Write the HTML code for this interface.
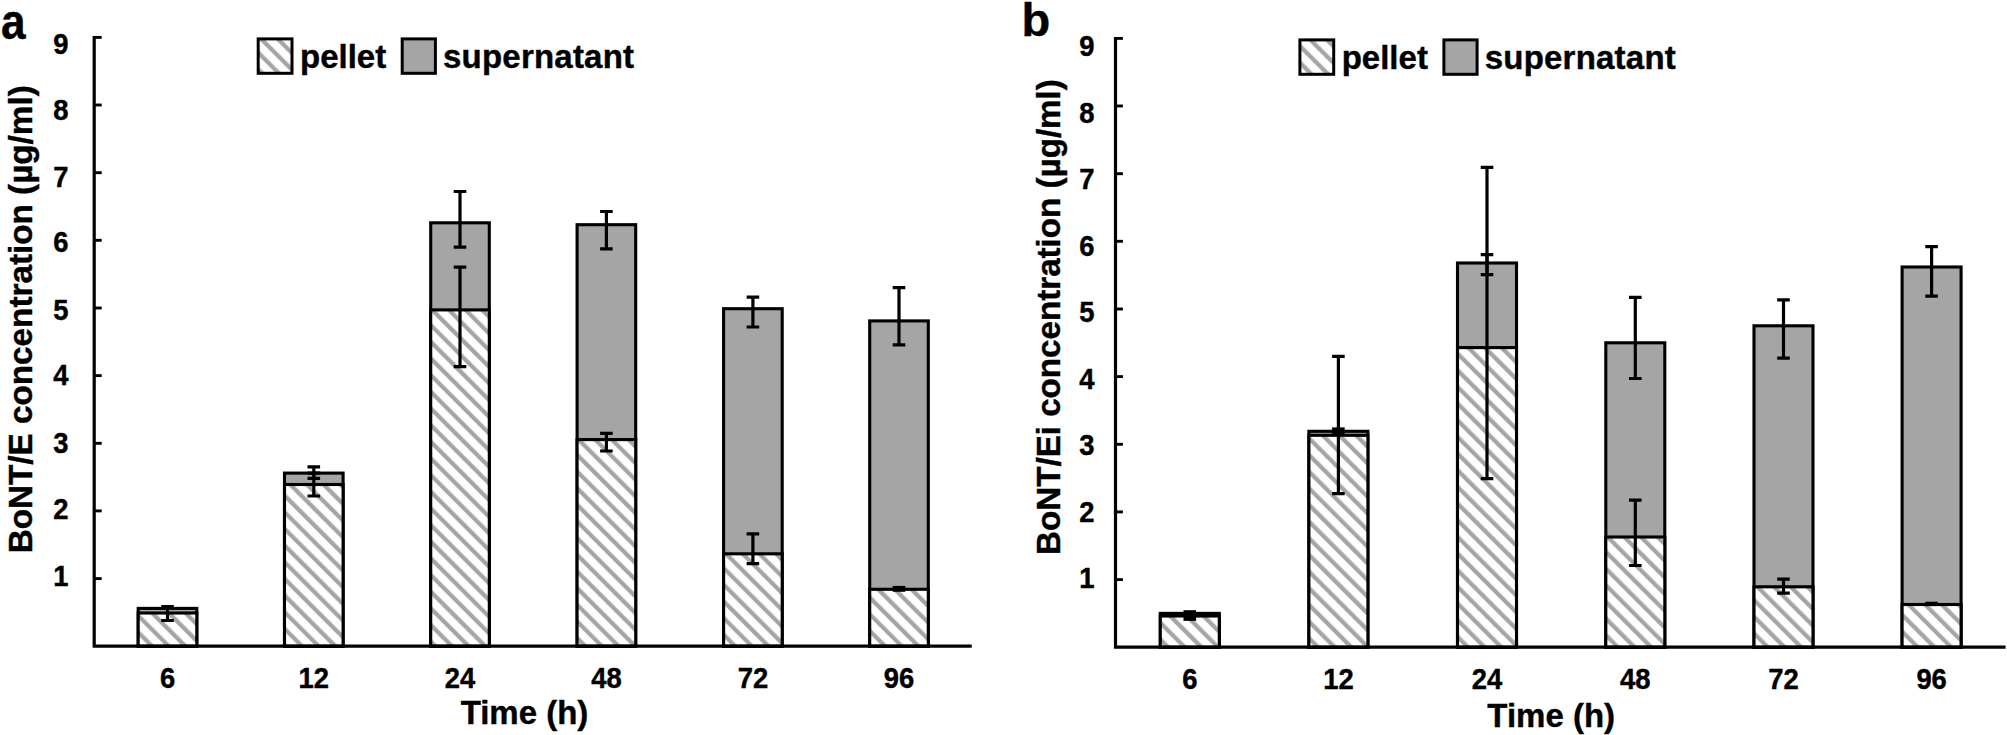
<!DOCTYPE html>
<html lang="en"><head><meta charset="utf-8"><title>BoNT/E concentration over time</title>
<style>html,body{margin:0;padding:0;background:#fff}body{width:2007px;height:735px;overflow:hidden}svg{display:block}text{font-family:"Liberation Sans",Arial,Helvetica,sans-serif;font-weight:700;fill:#000;stroke:#000;stroke-width:.4px}</style>
</head><body>
<svg width="2007" height="735" viewBox="0 0 2007 735">
<defs>
<pattern id="ha" patternUnits="userSpaceOnUse" width="20" height="11.7804" patternTransform="rotate(45)"><rect x="0" y="0" width="20" height="11.7804" fill="#fff"/><rect x="0" y="5.625" width="20" height="4.25" fill="#a5a5a5"/><rect x="0" y="-6.156" width="20" height="4.25" fill="#a5a5a5"/><rect x="0" y="17.405" width="20" height="4.25" fill="#a5a5a5"/></pattern>
<pattern id="hb" patternUnits="userSpaceOnUse" width="20" height="11.7804" patternTransform="rotate(45)"><rect x="0" y="0" width="20" height="11.7804" fill="#fff"/><rect x="0" y="6.502" width="20" height="4.25" fill="#a5a5a5"/><rect x="0" y="-5.279" width="20" height="4.25" fill="#a5a5a5"/><rect x="0" y="18.282" width="20" height="4.25" fill="#a5a5a5"/></pattern>
</defs>
<rect width="2007" height="735" fill="#fff"/>
<rect x="138.2" y="608.4" width="58.6" height="37.8" fill="#a5a5a5" stroke="#000" stroke-width="3.1"/>
<rect x="138.2" y="613.0" width="58.6" height="33.2" fill="url(#ha)" stroke="#000" stroke-width="3.1"/>
<rect x="284.5" y="473.1" width="58.6" height="173.1" fill="#a5a5a5" stroke="#000" stroke-width="3.1"/>
<rect x="284.5" y="484.5" width="58.6" height="161.7" fill="url(#ha)" stroke="#000" stroke-width="3.1"/>
<rect x="430.7" y="222.8" width="58.6" height="423.4" fill="#a5a5a5" stroke="#000" stroke-width="3.1"/>
<rect x="430.7" y="309.9" width="58.6" height="336.3" fill="url(#ha)" stroke="#000" stroke-width="3.1"/>
<rect x="577.1" y="224.7" width="58.6" height="421.5" fill="#a5a5a5" stroke="#000" stroke-width="3.1"/>
<rect x="577.1" y="439.6" width="58.6" height="206.6" fill="url(#ha)" stroke="#000" stroke-width="3.1"/>
<rect x="723.6" y="308.7" width="58.6" height="337.5" fill="#a5a5a5" stroke="#000" stroke-width="3.1"/>
<rect x="723.6" y="553.8" width="58.6" height="92.4" fill="url(#ha)" stroke="#000" stroke-width="3.1"/>
<rect x="869.7" y="320.9" width="58.6" height="325.3" fill="#a5a5a5" stroke="#000" stroke-width="3.1"/>
<rect x="869.7" y="589.3" width="58.6" height="56.9" fill="url(#ha)" stroke="#000" stroke-width="3.1"/>
<path d="M94.2 36.0V647.8M92.7 646.2H971.7" stroke="#000" stroke-width="3.2" fill="none"/>
<path d="M94.2 578.6H101.7" stroke="#000" stroke-width="2.9"/>
<path d="M94.2 510.9H101.7" stroke="#000" stroke-width="2.9"/>
<path d="M94.2 443.3H101.7" stroke="#000" stroke-width="2.9"/>
<path d="M94.2 375.6H101.7" stroke="#000" stroke-width="2.9"/>
<path d="M94.2 308.0H101.7" stroke="#000" stroke-width="2.9"/>
<path d="M94.2 240.3H101.7" stroke="#000" stroke-width="2.9"/>
<path d="M94.2 172.7H101.7" stroke="#000" stroke-width="2.9"/>
<path d="M94.2 105.0H101.7" stroke="#000" stroke-width="2.9"/>
<path d="M94.2 37.4H101.7" stroke="#000" stroke-width="2.9"/>
<path d="M161.2 606.5H173.8M161.2 620.5H173.8M167.5 606.5V620.5" stroke="#000" stroke-width="3.2" fill="none"/>
<path d="M307.5 466.8H320.1M307.5 478.4H320.1M313.8 466.8V478.4" stroke="#000" stroke-width="3.2" fill="none"/>
<path d="M307.5 473.1H320.1M307.5 496.0H320.1M313.8 473.1V496.0" stroke="#000" stroke-width="3.2" fill="none"/>
<path d="M453.7 191.5H466.3M453.7 247.1H466.3M460.0 191.5V247.1" stroke="#000" stroke-width="3.2" fill="none"/>
<path d="M453.7 267.1H466.3M453.7 366.7H466.3M460.0 267.1V366.7" stroke="#000" stroke-width="3.2" fill="none"/>
<path d="M600.1 211.5H612.7M600.1 248.9H612.7M606.4 211.5V248.9" stroke="#000" stroke-width="3.2" fill="none"/>
<path d="M600.1 433.3H612.7M600.1 451.0H612.7M606.4 433.3V451.0" stroke="#000" stroke-width="3.2" fill="none"/>
<path d="M746.6 297.2H759.2M746.6 327.0H759.2M752.9 297.2V327.0" stroke="#000" stroke-width="3.2" fill="none"/>
<path d="M746.6 533.8H759.2M746.6 563.7H759.2M752.9 533.8V563.7" stroke="#000" stroke-width="3.2" fill="none"/>
<path d="M892.7 287.7H905.3M892.7 344.9H905.3M899.0 287.7V344.9" stroke="#000" stroke-width="3.2" fill="none"/>
<rect x="892.7" y="585.9" width="12.6" height="5.9" fill="#000"/>
<text transform="translate(68.6 585.6) scale(1 1.07)" font-size="27.4" text-anchor="end">1</text>
<text transform="translate(68.6 519.1) scale(1 1.07)" font-size="27.4" text-anchor="end">2</text>
<text transform="translate(68.6 452.6) scale(1 1.07)" font-size="27.4" text-anchor="end">3</text>
<text transform="translate(68.6 385.3) scale(1 1.07)" font-size="27.4" text-anchor="end">4</text>
<text transform="translate(68.6 319.6) scale(1 1.07)" font-size="27.4" text-anchor="end">5</text>
<text transform="translate(68.6 252.0) scale(1 1.07)" font-size="27.4" text-anchor="end">6</text>
<text transform="translate(68.6 186.6) scale(1 1.07)" font-size="27.4" text-anchor="end">7</text>
<text transform="translate(68.6 120.1) scale(1 1.07)" font-size="27.4" text-anchor="end">8</text>
<text transform="translate(68.6 53.6) scale(1 1.07)" font-size="27.4" text-anchor="end">9</text>
<text transform="translate(167.5 688.4) scale(1 1.07)" font-size="27.4" text-anchor="middle">6</text>
<text transform="translate(313.8 688.4) scale(1 1.07)" font-size="27.4" text-anchor="middle">12</text>
<text transform="translate(460.0 688.4) scale(1 1.07)" font-size="27.4" text-anchor="middle">24</text>
<text transform="translate(606.4 688.4) scale(1 1.07)" font-size="27.4" text-anchor="middle">48</text>
<text transform="translate(752.9 688.4) scale(1 1.07)" font-size="27.4" text-anchor="middle">72</text>
<text transform="translate(899.0 688.4) scale(1 1.07)" font-size="27.4" text-anchor="middle">96</text>
<text x="524.5" y="724.4" font-size="33" text-anchor="middle">Time (h)</text>
<text transform="translate(32.1 553.3) rotate(-90)" font-size="33.25">BoNT/E concentration (µg/ml)</text>
<text transform="translate(1.1 38.6) scale(0.94 1.05)" font-size="47">a</text>
<rect x="258.2" y="38.9" width="33.8" height="34.4" fill="url(#ha)" stroke="#000" stroke-width="3"/>
<text x="300.0" y="67.7" font-size="33">pellet</text>
<rect x="402.2" y="38.9" width="33.2" height="34.4" fill="#a5a5a5" stroke="#000" stroke-width="3"/>
<text x="443.0" y="67.7" font-size="33" letter-spacing=".22">supernatant</text>
<rect x="1160.3" y="613.4" width="59.0" height="33.8" fill="#a5a5a5" stroke="#000" stroke-width="3.1"/>
<rect x="1160.3" y="616.0" width="59.0" height="31.2" fill="url(#hb)" stroke="#000" stroke-width="3.1"/>
<rect x="1308.9" y="431.3" width="59.0" height="215.9" fill="#a5a5a5" stroke="#000" stroke-width="3.1"/>
<rect x="1308.9" y="435.3" width="59.0" height="211.9" fill="url(#hb)" stroke="#000" stroke-width="3.1"/>
<rect x="1457.5" y="263.0" width="59.0" height="384.2" fill="#a5a5a5" stroke="#000" stroke-width="3.1"/>
<rect x="1457.5" y="347.6" width="59.0" height="299.6" fill="url(#hb)" stroke="#000" stroke-width="3.1"/>
<rect x="1605.8" y="342.8" width="59.0" height="304.4" fill="#a5a5a5" stroke="#000" stroke-width="3.1"/>
<rect x="1605.8" y="537.0" width="59.0" height="110.2" fill="url(#hb)" stroke="#000" stroke-width="3.1"/>
<rect x="1754.0" y="325.8" width="59.0" height="321.4" fill="#a5a5a5" stroke="#000" stroke-width="3.1"/>
<rect x="1754.0" y="586.8" width="59.0" height="60.4" fill="url(#hb)" stroke="#000" stroke-width="3.1"/>
<rect x="1902.1" y="267.0" width="59.0" height="380.2" fill="#a5a5a5" stroke="#000" stroke-width="3.1"/>
<rect x="1902.1" y="604.5" width="59.0" height="42.7" fill="url(#hb)" stroke="#000" stroke-width="3.1"/>
<path d="M1115.5 37.0V648.8M1113.9 647.2H2005.6" stroke="#000" stroke-width="3.2" fill="none"/>
<path d="M1115.5 579.6H1122.9" stroke="#000" stroke-width="2.9"/>
<path d="M1115.5 511.9H1122.9" stroke="#000" stroke-width="2.9"/>
<path d="M1115.5 444.3H1122.9" stroke="#000" stroke-width="2.9"/>
<path d="M1115.5 376.6H1122.9" stroke="#000" stroke-width="2.9"/>
<path d="M1115.5 309.0H1122.9" stroke="#000" stroke-width="2.9"/>
<path d="M1115.5 241.3H1122.9" stroke="#000" stroke-width="2.9"/>
<path d="M1115.5 173.7H1122.9" stroke="#000" stroke-width="2.9"/>
<path d="M1115.5 106.0H1122.9" stroke="#000" stroke-width="2.9"/>
<path d="M1115.5 38.4H1122.9" stroke="#000" stroke-width="2.9"/>
<rect x="1183.5" y="610.2" width="12.6" height="10.7" fill="#000"/>
<rect x="1332.1" y="427.4" width="12.6" height="7.2" fill="#000"/>
<path d="M1332.1 356.4H1344.7M1332.1 493.7H1344.7M1338.4 356.4V493.7" stroke="#000" stroke-width="3.2" fill="none"/>
<path d="M1480.7 254.7H1493.3M1480.7 274.6H1493.3M1487.0 254.7V274.6" stroke="#000" stroke-width="3.2" fill="none"/>
<path d="M1480.7 167.3H1493.3M1480.7 478.7H1493.3M1487.0 167.3V478.7" stroke="#000" stroke-width="3.2" fill="none"/>
<path d="M1629.0 297.3H1641.6M1629.0 378.5H1641.6M1635.3 297.3V378.5" stroke="#000" stroke-width="3.2" fill="none"/>
<path d="M1629.0 500.1H1641.6M1629.0 565.5H1641.6M1635.3 500.1V565.5" stroke="#000" stroke-width="3.2" fill="none"/>
<path d="M1777.2 299.9H1789.8M1777.2 358.1H1789.8M1783.5 299.9V358.1" stroke="#000" stroke-width="3.2" fill="none"/>
<path d="M1777.2 579.2H1789.8M1777.2 593.2H1789.8M1783.5 579.2V593.2" stroke="#000" stroke-width="3.2" fill="none"/>
<path d="M1925.3 246.7H1937.9M1925.3 296.2H1937.9M1931.6 246.7V296.2" stroke="#000" stroke-width="3.2" fill="none"/>
<rect x="1925.3" y="601.7" width="12.6" height="4.4" fill="#000"/>
<text transform="translate(1094.4 588.3) scale(1 1.07)" font-size="27.4" text-anchor="end">1</text>
<text transform="translate(1094.4 521.8) scale(1 1.07)" font-size="27.4" text-anchor="end">2</text>
<text transform="translate(1094.4 455.3) scale(1 1.07)" font-size="27.4" text-anchor="end">3</text>
<text transform="translate(1094.4 388.8) scale(1 1.07)" font-size="27.4" text-anchor="end">4</text>
<text transform="translate(1094.4 322.3) scale(1 1.07)" font-size="27.4" text-anchor="end">5</text>
<text transform="translate(1094.4 255.8) scale(1 1.07)" font-size="27.4" text-anchor="end">6</text>
<text transform="translate(1094.4 189.3) scale(1 1.07)" font-size="27.4" text-anchor="end">7</text>
<text transform="translate(1094.4 122.8) scale(1 1.07)" font-size="27.4" text-anchor="end">8</text>
<text transform="translate(1094.4 56.3) scale(1 1.07)" font-size="27.4" text-anchor="end">9</text>
<text transform="translate(1189.8 689.1) scale(1 1.07)" font-size="27.4" text-anchor="middle">6</text>
<text transform="translate(1338.4 689.1) scale(1 1.07)" font-size="27.4" text-anchor="middle">12</text>
<text transform="translate(1487.0 689.1) scale(1 1.07)" font-size="27.4" text-anchor="middle">24</text>
<text transform="translate(1635.3 689.1) scale(1 1.07)" font-size="27.4" text-anchor="middle">48</text>
<text transform="translate(1783.5 689.1) scale(1 1.07)" font-size="27.4" text-anchor="middle">72</text>
<text transform="translate(1931.6 689.1) scale(1 1.07)" font-size="27.4" text-anchor="middle">96</text>
<text x="1551.2" y="727.1" font-size="33" text-anchor="middle">Time (h)</text>
<text transform="translate(1060.0 554.9) rotate(-90)" font-size="33.15">BoNT/Ei concentration (µg/ml)</text>
<text transform="translate(1021.5 36.3) scale(1 1)" font-size="47">b</text>
<rect x="1299.9" y="39.9" width="33.8" height="34.4" fill="url(#hb)" stroke="#000" stroke-width="3"/>
<text x="1341.7" y="68.7" font-size="33">pellet</text>
<rect x="1443.9" y="39.9" width="33.2" height="34.4" fill="#a5a5a5" stroke="#000" stroke-width="3"/>
<text x="1484.7" y="68.7" font-size="33" letter-spacing=".22">supernatant</text>
</svg></body></html>
